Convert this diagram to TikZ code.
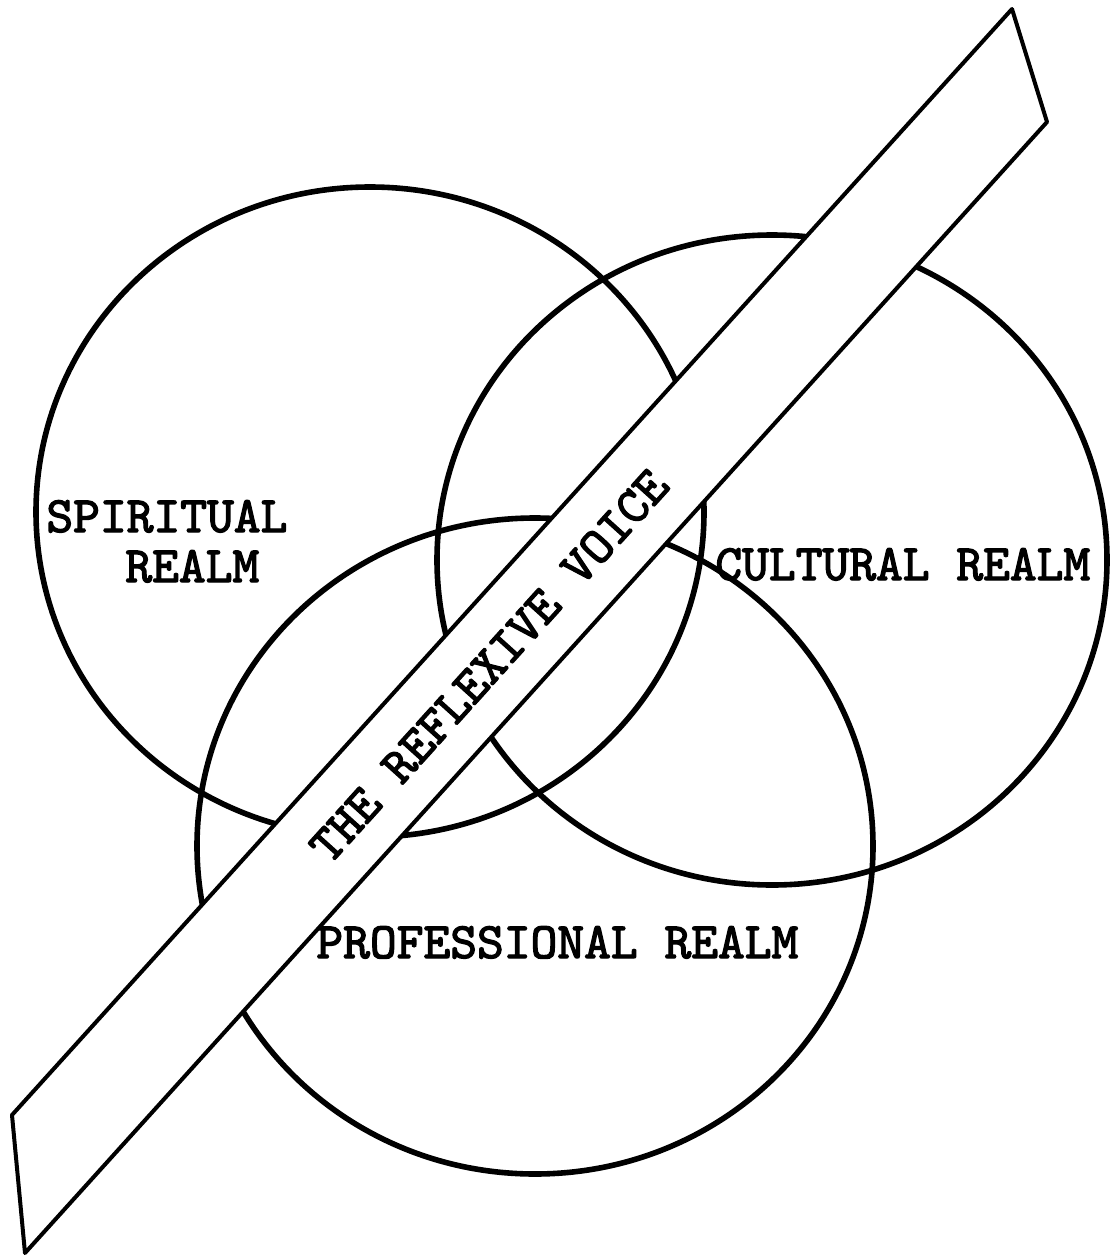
\documentclass[tikz,border=0pt]{standalone}
\usepackage{fontspec}
\newfontfamily\typew{lmmono10-regular.otf}[FakeBold=2.5]
\begin{document}
\begin{tikzpicture}[x=0.5pt,y=-0.5pt,
  realm/.style={line width=2.8pt},
  bandline/.style={line width=2pt, line join=round, fill=white},
  lbl/.style={font=\fontsize{25.5}{25.5}\selectfont\typew, inner sep=0pt, anchor=base west},
  bandtext/.style={font=\fontsize{25.5}{25.5}\selectfont\typew, inner sep=0pt, rotate=47.9}]
\useasboundingbox (0,0) rectangle (1111,1258);
\fill[white] (0,0) rectangle (1111,1258);
% centres of the three realms
\coordinate (sc) at (370,512);
\coordinate (cc) at (772,560);
\coordinate (pc) at (535,846);
\draw[realm] (sc) ellipse [x radius=334, y radius=325];
\draw[realm] (cc) ellipse [x radius=335, y radius=325];
\draw[realm] (pc) ellipse [x radius=338, y radius=328];
% the band
\coordinate (A) at (1012,9);
\coordinate (B) at (1047,122);
\coordinate (C) at (25,1253);
\coordinate (D) at (12,1115);
\draw[bandline] (A) -- (B) -- (C) -- (D) -- cycle;
% labels
\node[lbl] (sp1) at (46,532) {SPIRITUAL};
\node[lbl] (sp2) at (125,582) {REALM};
\node[lbl] (cu) at (715,580) {CULTURAL REALM};
\node[lbl] (pr) at (316,958) {PROFESSIONAL REALM};
\node[bandtext] (rv) at (489,666) {THE REFLEXIVE VOICE};
\end{tikzpicture}
\end{document}
